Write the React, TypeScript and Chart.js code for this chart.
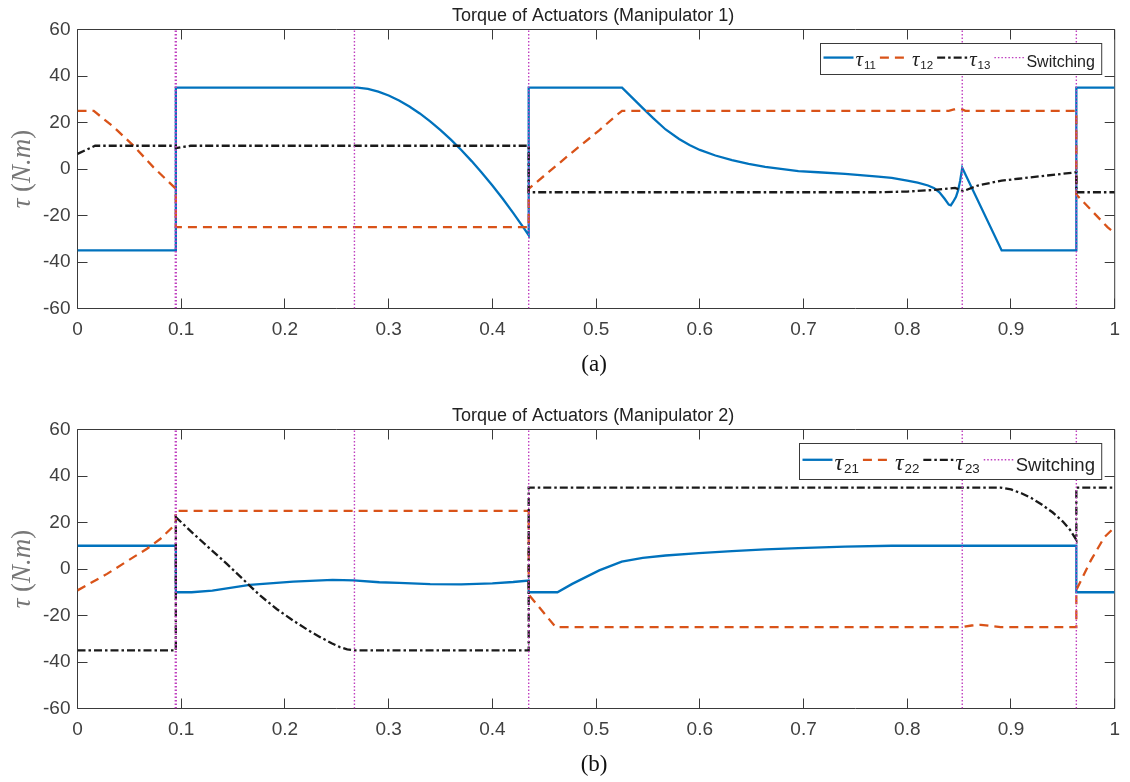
import React, { useEffect, useRef } from 'react';
import { Chart, registerables } from 'chart.js';

Chart.register(...registerables);

// ---------- axes ----------
const xTicks = [0, 0.1, 0.2, 0.3, 0.4, 0.5, 0.6, 0.7, 0.8, 0.9, 1];
const xTickLabels = ['0', '0.1', '0.2', '0.3', '0.4', '0.5', '0.6', '0.7', '0.8', '0.9', '1'];
const yTicks = [-60, -40, -20, 0, 20, 40, 60];
const yTickLabels = ['-60', '-40', '-20', '0', '20', '40', '60'];

// ---------- switching instants ----------
const switchTimes = [0.0943, 0.0952, 0.267, 0.435, 0.853, 0.963];

// ---------- Manipulator 1 ----------
const t11 = [0, 0.0948, 0.0948, 0.27, 0.28, 0.29, 0.30, 0.31, 0.32, 0.33, 0.34, 0.35, 0.36, 0.37, 0.38, 0.39, 0.40, 0.41, 0.42, 0.43, 0.435, 0.435, 0.525, 0.535, 0.545, 0.555, 0.567, 0.58, 0.59, 0.60, 0.615, 0.631, 0.647, 0.663, 0.68, 0.695, 0.714, 0.74, 0.772, 0.785, 0.80, 0.81, 0.82, 0.826, 0.831, 0.836, 0.840, 0.842, 0.844, 0.847, 0.849, 0.851, 0.853, 0.891, 0.963, 0.963, 1.0];
const tau11 = [-35, -35, 35, 35, 34.5, 33.3, 31.6, 29.5, 26.9, 23.9, 20.5, 16.7, 12.6, 8.2, 3.4, -1.7, -7.1, -12.8, -18.9, -25.2, -28.5, 35, 35, 30.6, 26.2, 21.9, 17.0, 12.9, 10.3, 8.2, 5.8, 3.8, 2.2, 0.9, -0.1, -0.9, -1.4, -2.1, -3.3, -3.8, -5.0, -5.9, -7.1, -8.3, -10.0, -12.8, -15.3, -15.6, -14.3, -12.0, -9.2, -5.0, 0.5, -35, -35, 35, 35];

const t12 = [0, 0.0157, 0.035, 0.054, 0.0731, 0.0948, 0.0948, 0.435, 0.435, 0.477, 0.503, 0.518, 0.525, 0.84, 0.845, 0.849, 0.853, 0.856, 0.963, 0.963, 0.993, 1.0];
const tau12 = [25, 25, 18, 10, 0.8, -8.5, -25, -25, -8.5, 7.2, 16.6, 22.5, 25, 25, 25.6, 25.9, 25.6, 25, 25, -11, -25, -27.5];

const t13 = [0, 0.017, 0.0948, 0.0948, 0.109, 0.435, 0.435, 0.772, 0.80, 0.826, 0.846, 0.854, 0.868, 0.891, 0.907, 0.935, 0.963, 0.963, 1.0];
const tau13 = [6.5, 10, 10, 9, 10, 10, -10, -10, -9.7, -9, -8.1, -9.5, -7.1, -5, -4.2, -2.8, -1.4, -10, -10];

// ---------- Manipulator 2 ----------
const t21 = [0, 0.0948, 0.0948, 0.11, 0.13, 0.166, 0.208, 0.246, 0.266, 0.291, 0.31, 0.34, 0.37, 0.40, 0.42, 0.435, 0.435, 0.4627, 0.477, 0.503, 0.5247, 0.545, 0.567, 0.599, 0.631, 0.663, 0.695, 0.74, 0.785, 0.963, 0.963, 1.0];
const tau21 = [10, 10, -10, -10, -9.3, -6.8, -5.4, -4.7, -4.9, -5.7, -6.0, -6.5, -6.6, -6.2, -5.6, -5, -10, -10, -6.4, -0.6, 3.2, 4.8, 5.8, 6.8, 7.7, 8.4, 9.0, 9.6, 10, 10, -10, -10];

const t22 = [0, 0.0285, 0.054, 0.067, 0.08, 0.0948, 0.0948, 0.435, 0.435, 0.461, 0.853, 0.862, 0.871, 0.88, 0.89, 0.963, 0.963, 0.977, 0.99, 1.0];
const tau22 = [-9.2, -2.1, 5.1, 8.7, 13, 19.4, 25, 25, -11, -25, -25, -24.3, -24, -24.5, -25, -25, -9, 3.7, 13.7, 18];

const t23 = [0, 0.0948, 0.0948, 0.112, 0.128, 0.144, 0.16, 0.176, 0.192, 0.208, 0.222, 0.234, 0.245, 0.253, 0.26, 0.267, 0.435, 0.435, 0.89, 0.9, 0.91, 0.92, 0.93, 0.94, 0.95, 0.957, 0.963, 0.963, 1.0];
const tau23 = [-35, -35, 22.3, 15.1, 8.6, 2.2, -4.6, -11.4, -17.2, -22.2, -26.2, -29.3, -31.9, -33.6, -34.6, -35, -35, 35, 35, 34.2, 32.6, 30.4, 27.6, 24.4, 20.4, 16.8, 12.5, 35, 35];

// ---------- text ----------
const title1 = 'Torque of Actuators (Manipulator 1)';
const title2 = 'Torque of Actuators (Manipulator 2)';
const legendSubs1 = ['11', '12', '13'];
const legendSubs2 = ['21', '22', '23'];
const switchLabel = 'Switching';

// ---------- styles ----------
const BLUE = '#0072BD';
const ORANGE = '#D95319';
const BLACK = '#1a1a1a';
const MAGENTA = '#BF3FBF';
const AXIS = '#3a3a3a';
const TICKTXT = '#404040';

const styles = [
  { color: BLUE, width: 2.3, dash: [] as number[] },
  { color: ORANGE, width: 2.3, dash: [9, 6] },
  { color: BLACK, width: 2.3, dash: [8, 3, 2.5, 3] },
];
const switchStyle = { color: MAGENTA, width: 1.4, dash: [1.5, 2] };

const toPts = (t: number[], v: number[]) => t.map((x, i) => ({ x, y: v[i] }));

function switchingData() {
  const lo = yTicks[0];
  const hi = yTicks[yTicks.length - 1];
  const out: any[] = [];
  switchTimes.forEach((s) => {
    out.push({ x: s, y: lo }, { x: s, y: hi }, { x: s, y: null });
  });
  return out;
}

type Props = {
  height: number;
  top: number;
  series: { t: number[]; v: number[] }[];
  title: string;
  sub: string;
  subs: string[];
  legendFont: number;
};

function TorqueChart({ height, top, series, title, sub, subs, legendFont }: Props) {
  const ref = useRef<HTMLCanvasElement | null>(null);

  useEffect(() => {
    const canvas = ref.current;
    if (!canvas) return;

    const framePlugin = {
      id: 'frame',
      beforeDatasetsDraw(chart: any) {
        const ctx = chart.ctx;
        const { left, right, top: t, bottom } = chart.chartArea;
        ctx.save();
        ctx.strokeStyle = AXIS;
        ctx.lineWidth = 1;
        ctx.beginPath();
        ctx.rect(left, t, right - left, bottom - t);
        xTicks.forEach((v) => {
          const px = Math.round(chart.scales.x.getPixelForValue(v) - 0.5) + 0.5;
          ctx.moveTo(px, bottom);
          ctx.lineTo(px, bottom - 10);
          ctx.moveTo(px, t);
          ctx.lineTo(px, t + 10);
        });
        yTicks.forEach((v) => {
          const py = Math.round(chart.scales.y.getPixelForValue(v) - 0.5) + 0.5;
          ctx.moveTo(left, py);
          ctx.lineTo(left + 10, py);
          ctx.moveTo(right, py);
          ctx.lineTo(right - 10, py);
        });
        ctx.stroke();
        ctx.restore();
      },
      afterDraw(chart: any) {
        const ctx = chart.ctx;
        const { left, right, top: t, bottom } = chart.chartArea;
        const cx = (left + right) / 2;
        ctx.save();
        // title
        ctx.fillStyle = '#222222';
        ctx.font = '18px "Liberation Sans", Arial, sans-serif';
        ctx.textAlign = 'center';
        ctx.textBaseline = 'alphabetic';
        ctx.fillText(title, cx - 3, 20.5);
        // sub caption
        ctx.font = '23px "Liberation Serif", serif';
        ctx.fillStyle = '#111111';
        ctx.fillText(sub, cx - 2, 371);
        // y label
        ctx.save();
        ctx.translate(23, (t + bottom) / 2);
        ctx.rotate(-Math.PI / 2);
        ctx.fillStyle = '#777777';
        ctx.textBaseline = 'middle';
        ctx.textAlign = 'left';
        const parts: [string, boolean][] = [['τ', true], [' (', false], ['N.m', true], [')', false]];
        const fnt = (it: boolean) => `${it ? 'italic ' : ''}27px "Liberation Serif", serif`;
        let total = 0;
        parts.forEach(([s, it]) => { ctx.font = fnt(it); total += ctx.measureText(s).width; });
        let x = -total / 2;
        parts.forEach(([s, it]) => { ctx.font = fnt(it); ctx.fillText(s, x, 0); x += ctx.measureText(s).width; });
        ctx.restore();

        // legend
        const f = legendFont;
        const sampleLen = 30;
        const tauFont = `italic ${1.3 * f}px "Liberation Serif", serif`;
        const subFont = `${0.72 * f}px "Liberation Sans", Arial, sans-serif`;
        const txtFont = `${f}px "Liberation Sans", Arial, sans-serif`;
        const labelW: number[] = [];
        subs.forEach((s) => {
          ctx.font = tauFont;
          const a = ctx.measureText('τ').width;
          ctx.font = subFont;
          const b = ctx.measureText(s).width;
          labelW.push(a + b + 1);
        });
        ctx.font = txtFont;
        labelW.push(ctx.measureText(switchLabel).width);
        const nItems = labelW.length;
        const boxW = 3 + nItems * (sampleLen + 2) + (nItems - 1) * 4 + labelW.reduce((p, c) => p + c, 0) + 7;
        const boxH = 1.92 * f;
        const boxR = right - 13;
        const boxT = Math.round(t + 13.5) + 0.5;
        const boxL = Math.round(boxR - boxW) + 0.5;
        ctx.fillStyle = '#ffffff';
        ctx.fillRect(boxL, boxT, boxR - boxL, boxH);
        ctx.strokeStyle = AXIS;
        ctx.lineWidth = 1;
        ctx.strokeRect(boxL, boxT, boxR - boxL, Math.round(boxH));
        const base = boxT + 1.48 * f;
        const lineY = boxT + 0.88 * f;
        let lx = boxL + 3;
        const allStyles = [...styles, switchStyle];
        for (let i = 0; i < nItems; i++) {
          const st = allStyles[i];
          ctx.save();
          ctx.strokeStyle = st.color;
          ctx.lineWidth = st.width;
          ctx.setLineDash(st.dash);
          ctx.beginPath();
          ctx.moveTo(lx, lineY);
          ctx.lineTo(lx + sampleLen, lineY);
          ctx.stroke();
          ctx.restore();
          lx += sampleLen + 2;
          ctx.fillStyle = '#222222';
          ctx.textAlign = 'left';
          ctx.textBaseline = 'alphabetic';
          if (i < subs.length) {
            ctx.font = tauFont;
            ctx.fillText('τ', lx, base - 1);
            const a = ctx.measureText('τ').width;
            ctx.font = subFont;
            ctx.fillText(subs[i], lx + a + 1, base + 0.14 * f);
          } else {
            ctx.font = txtFont;
            ctx.fillText(switchLabel, lx, base);
          }
          lx += labelW[i] + 4;
        }
        ctx.restore();
      },
    };

    const datasets: any[] = [
      {
        label: 'Switching',
        data: switchingData(),
        borderColor: switchStyle.color,
        borderWidth: switchStyle.width,
        borderDash: switchStyle.dash,
        spanGaps: false,
        order: 0,
      },
    ];
    series.forEach((s, i) => {
      datasets.push({
        label: 'tau' + subs[i],
        data: toPts(s.t, s.v),
        borderColor: styles[i].color,
        borderWidth: styles[i].width,
        borderDash: styles[i].dash,
        order: 3 - i,
      });
    });

    const chart = new Chart(canvas, {
      type: 'line',
      data: { datasets },
      options: {
        animation: false,
        responsive: false,
        maintainAspectRatio: false,
        devicePixelRatio: 1,
        layout: { padding: { left: 0, right: 12.5, top: 29.5, bottom: 0 } },
        elements: { point: { radius: 0 }, line: { tension: 0, fill: false } },
        plugins: { legend: { display: false }, tooltip: { enabled: false }, title: { display: false } },
        scales: {
          x: {
            type: 'linear',
            min: 0,
            max: 1,
            afterBuildTicks: (s: any) => { s.ticks = xTicks.map((v) => ({ value: v })); },
            afterFit: (s: any) => { s.height = height - 308.5; },
            ticks: {
              autoSkip: false,
              maxRotation: 0,
              padding: 10,
              color: TICKTXT,
              font: { size: 19, family: '"Liberation Sans", Arial, sans-serif' },
              callback: (v: any) => { const i = xTicks.findIndex((q) => Math.abs(q - v) < 1e-9); return i >= 0 ? xTickLabels[i] : ''; },
            },
            grid: { display: false, drawTicks: false },
            border: { display: false },
          },
          y: {
            type: 'linear',
            min: -60,
            max: 60,
            afterBuildTicks: (s: any) => { s.ticks = yTicks.map((v) => ({ value: v })); },
            afterFit: (s: any) => { s.width = 77.5; },
            ticks: {
              autoSkip: false,
              padding: 7,
              color: TICKTXT,
              font: { size: 19, family: '"Liberation Sans", Arial, sans-serif' },
              callback: (v: any) => { const i = yTicks.indexOf(v); return i >= 0 ? yTickLabels[i] : ''; },
            },
            grid: { display: false, drawTicks: false },
            border: { display: false },
          },
        },
      },
      plugins: [framePlugin],
    } as any);

    return () => chart.destroy();
  }, []);

  return (
    <canvas
      ref={ref}
      width={1130}
      height={height}
      style={{ position: 'absolute', left: 0, top, width: 1130, height, display: 'block' }}
    />
  );
}

export default function App() {
  const series1 = [
    { t: t11, v: tau11 },
    { t: t12, v: tau12 },
    { t: t13, v: tau13 },
  ];
  const series2 = [
    { t: t21, v: tau21 },
    { t: t22, v: tau22 },
    { t: t23, v: tau23 },
  ];
  return (
    <div style={{ position: 'absolute', left: 0, top: 0, width: 1130, height: 782, background: '#ffffff' }}>
      <TorqueChart height={400} top={0} series={series1} title={title1} sub="(a)" subs={legendSubs1} legendFont={16} />
      <TorqueChart height={382} top={400} series={series2} title={title2} sub="(b)" subs={legendSubs2} legendFont={18.5} />
    </div>
  );
}
